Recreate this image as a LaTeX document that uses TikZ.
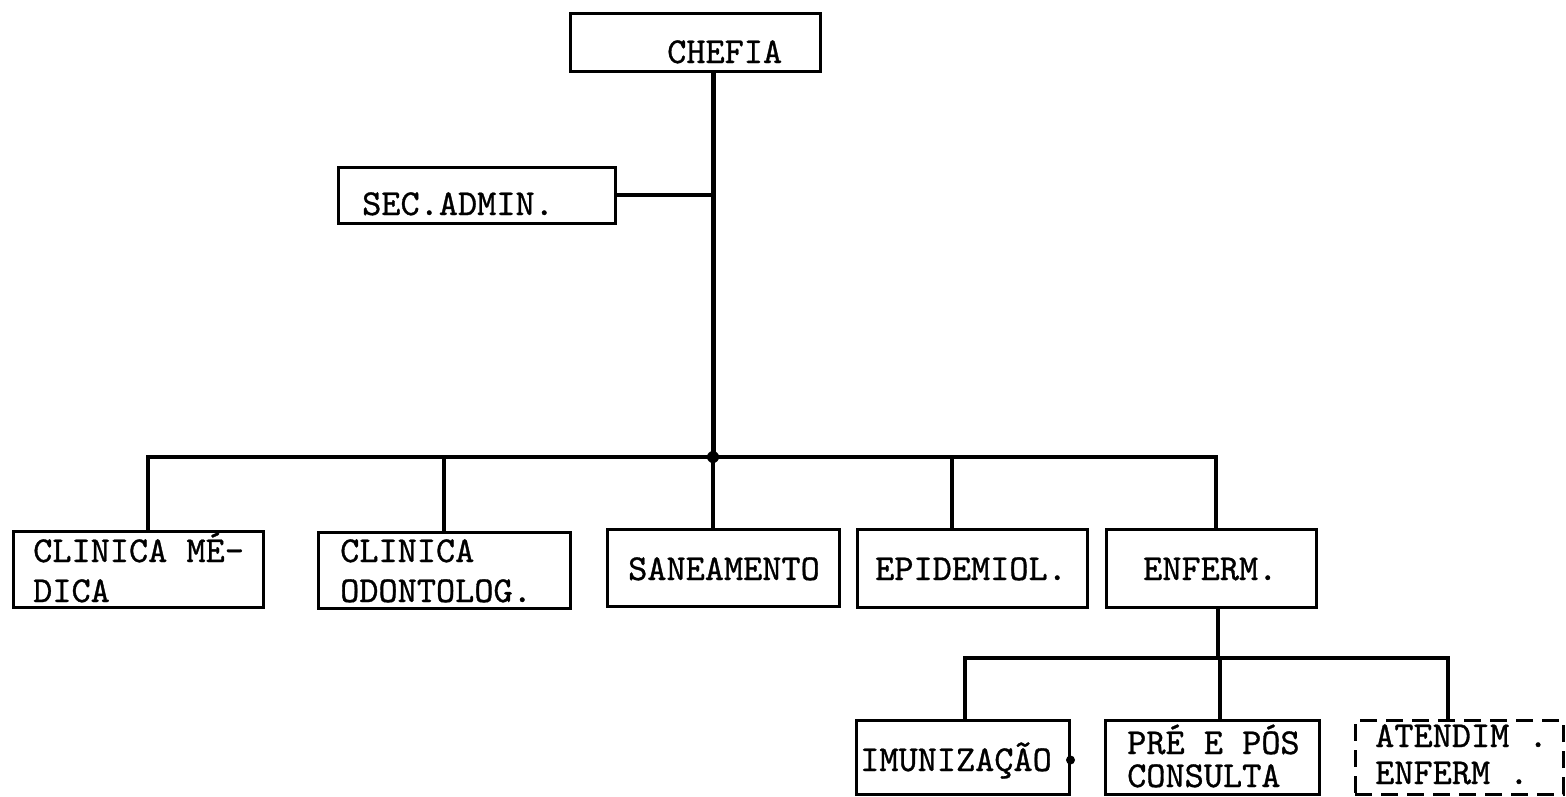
\documentclass[tikz,border=0pt]{standalone}
\usepackage{fontspec}
% typewriter face, slightly emboldened
\newfontfamily\twfont{lmmono10-regular}[Extension=.otf, FakeBold=0.9]
\begin{document}
\begin{tikzpicture}[x=1pt,y=-1pt,
  box/.style={draw=black, line width=3pt, rectangle, inner sep=0pt},
  dbox/.style={box, dash pattern=on 17pt off 9pt},
  wire/.style={draw=black, line width=3.3pt, line join=miter},
  trunk/.style={draw=black, line width=5pt},
  lbl/.style={inner sep=0pt, anchor=base west, font=\fontsize{36.5}{40}\selectfont\twfont},
  blob/.style={fill=black, circle, inner sep=0pt}]
\useasboundingbox (0,0) rectangle (1566,796);

% ---- top level ----
\node[box, minimum width=250pt, minimum height=58pt] (chefia) at (695,42) {};
\node[lbl] (chefiaT) at (667,63) {CHEFIA};

\node[box, minimum width=277pt, minimum height=56pt] (sec) at (476.5,195) {};
\node[lbl] (secT) at (362,215) {SEC.ADMIN.};

% ---- second level ----
\node[box, minimum width=250pt, minimum height=76pt] (med) at (138,569) {};
\node[lbl] (medT1) at (33,562) {CLINICA MÉ-};
\node[lbl] (medT2) at (33,602) {DICA};

\node[box, minimum width=252pt, minimum height=76pt] (odo) at (444,570) {};
\node[lbl] (odoT1) at (340,562) {CLINICA};
\node[lbl] (odoT2) at (340,602) {ODONTOLOG.};

\node[box, minimum width=232pt, minimum height=77pt] (san) at (723,567.5) {};
\node[lbl] (sanT) at (628,580) {SANEAMENTO};

\node[box, minimum width=230pt, minimum height=78pt] (epi) at (972,568) {};
\node[lbl] (epiT) at (875,580) {EPIDEMIOL.};

\node[box, minimum width=210pt, minimum height=78pt] (enf) at (1211,568) {};
\node[lbl] (enfT) at (1143,580) {ENFERM.};

% ---- third level ----
\node[box, minimum width=213pt, minimum height=74pt] (imu) at (962.5,757) {};
\node[lbl] (imuT) at (860,771) {IMUNIZAÇÃO};

\node[box, minimum width=214pt, minimum height=74pt] (pre) at (1212,757) {};
\node[lbl] (preT1) at (1127,754) {PRÉ E PÓS};
\node[lbl] (preT2) at (1127,787) {CONSULTA};

\node[dbox, minimum width=208pt, minimum height=74pt] (ate) at (1459,757) {};
\node[lbl] (ateT1) at (1375,747) {ATENDIM .};
\node[lbl] (ateT2) at (1375,784) {ENFERM .};

% ---- junction points ----
\coordinate (jn) at (713,457);
\coordinate (barL) at (148,457);
\coordinate (barR) at (1216,457);
\coordinate (tEpi) at (952,457);
\coordinate (b2) at (1218,658);
\coordinate (b2L) at (965,658);
\coordinate (b2R) at (1448,658);
\coordinate (tPre) at (1220,658);

% ---- connectors ----
\draw[trunk] (chefia.south -| jn) -- (jn);
\draw[wire] (jn) -- (san.north -| jn);
\draw[wire] (sec.east) -- (sec.east -| jn);
\draw[wire] (med.north -| barL) -- (barL) -- (barR) -- (enf.north -| barR);
\draw[wire] (odo.north) -- (odo.north |- jn);
\draw[wire] (tEpi) -- (tEpi |- epi.north);

\draw[wire] (enf.south -| b2) -- (b2);
\draw[wire] (imu.north -| b2L) -- (b2L) -- (b2R) -- (ate.north -| b2R);
\draw[wire] (tPre) -- (tPre |- pre.north);

% ink spots
\node[blob, minimum size=12pt] (jdot) at (jn) {};
\node[blob, minimum size=9pt] (idot) at (imu.east |- 0,760) {};
\end{tikzpicture}
\end{document}
